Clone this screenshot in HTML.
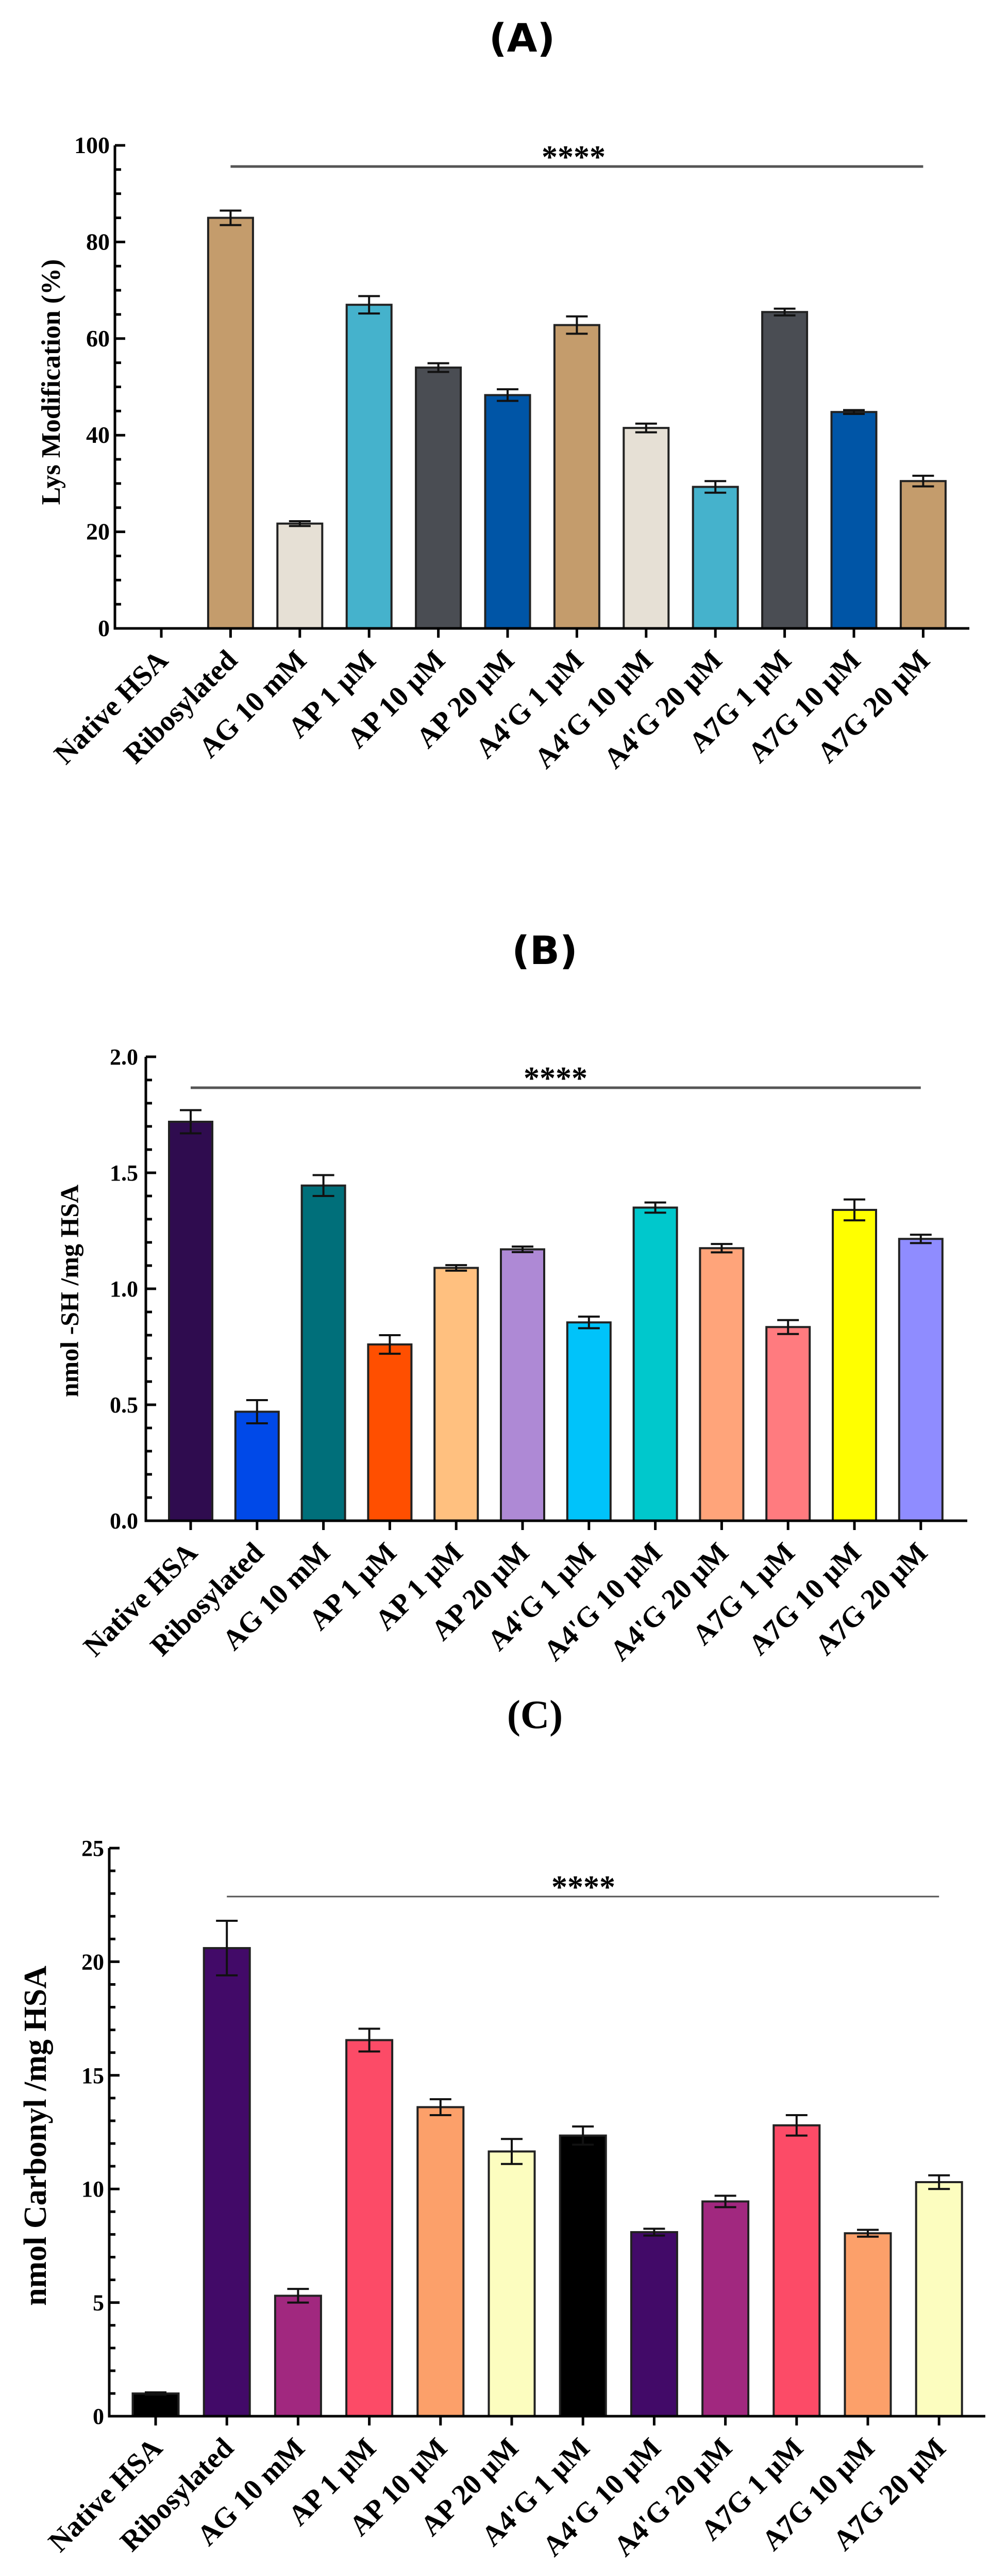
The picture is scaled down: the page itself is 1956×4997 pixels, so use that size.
<!DOCTYPE html>
<html><head><meta charset="utf-8"><style>
html,body{margin:0;padding:0;background:#fff;}
svg{display:block;}
text{font-family:"Liberation Serif","DejaVu Serif",serif;font-weight:bold;fill:#000;}
</style></head><body>
<svg id="fig" width="1956" height="4997" viewBox="0 0 1956 4997" xmlns="http://www.w3.org/2000/svg">
<text x="1013" y="100" text-anchor="middle" style="font-family:'DejaVu Sans',sans-serif;font-size:76px;">(A)</text>
<text x="1057" y="1870" text-anchor="middle" style="font-family:'DejaVu Sans',sans-serif;font-size:76px;">(B)</text>
<text x="1038" y="3352" text-anchor="middle" style="font-size:78px;">(C)</text>
</svg>
<script>
const catsA = ["Native HSA","Ribosylated","AG 10 mM","AP 1 µM","AP 10 µM","AP 20 µM","A4'G 1 µM","A4'G 10 µM","A4'G 20 µM","A7G 1 µM","A7G 10 µM","A7G 20 µM"];
const valsA = [0,85,21.7,67,54,48.3,62.8,41.5,29.3,65.5,44.8,30.5];
const errsA = [0,1.5,0.5,1.8,0.9,1.2,1.8,0.9,1.2,0.7,0.4,1.1];
const ticksA = [0,20,40,60,80,100];
const colorsA = ["#ffffff","#C49C6C","#E6E0D5","#45B2CC","#4A4D53","#0055A6","#C49C6C","#E6E0D5","#45B2CC","#4A4D53","#0055A6","#C49C6C"];

const catsB = ["Native HSA","Ribosylated","AG 10 mM","AP 1 µM","AP 1 µM","AP 20 µM","A4'G 1 µM","A4'G 10 µM","A4'G 20 µM","A7G 1 µM","A7G 10 µM","A7G 20 µM"];
const valsB = [1.72,0.47,1.445,0.76,1.09,1.17,0.855,1.35,1.175,0.835,1.34,1.215];
const errsB = [0.05,0.05,0.045,0.04,0.012,0.012,0.025,0.022,0.018,0.03,0.045,0.018];
const ticksB = ["0.0","0.5","1.0","1.5","2.0"];
const colorsB = ["#2F0C4F","#0049E8","#006F7A","#FF4F00","#FFC07F","#AE89D5","#00C3FA","#00C8CC","#FFA47A","#FF7B7F","#FFFF00","#8F8CFF"];

const catsC = ["Native HSA","Ribosylated","AG 10 mM","AP 1 µM","AP 10 µM","AP 20 µM","A4'G 1 µM","A4'G 10 µM","A4'G 20 µM","A7G 1 µM","A7G 10 µM","A7G 20 µM"];
const valsC = [1.0,20.6,5.3,16.55,13.6,11.65,12.35,8.1,9.45,12.8,8.05,10.3];
const errsC = [0.05,1.2,0.3,0.5,0.35,0.55,0.4,0.15,0.25,0.45,0.15,0.3];
const ticksC = [0,5,10,15,20,25];
const colorsC = ["#000000","#420A68","#A1287F","#FC4B67","#FCA06A","#FCFDBF","#000000","#420A68","#A1287F","#FC4B67","#FCA06A","#FCFDBF"];

const NS = "http://www.w3.org/2000/svg";
const svg = document.getElementById('fig');
function mk(tag, attrs, parent){
  const e = document.createElementNS(NS, tag);
  for (const k in attrs) e.setAttribute(k, attrs[k]);
  (parent||svg).appendChild(e);
  return e;
}

function drawChart(cfg){
  const g = mk('g', {});
  
  
  const ymax = cfg.ymax;
  const y = v => cfg.y0 - (v / ymax) * (cfg.y0 - cfg.yTop);
  const x = i => cfg.x0 + i * cfg.step;
  for (let v = 0; v <= ymax + 1e-9; v += cfg.minor) {
    const isMajor = Math.abs(v / cfg.major - Math.round(v / cfg.major)) < 1e-6;
    const t = mk('line', {x1: cfg.axX, x2: cfg.axX + (isMajor ? 20 : 12), y1: y(v), y2: y(v), stroke: '#000', 'stroke-width': 5}, g);
    
    
  }
  cfg.ticks.forEach(tv => {
    const t = mk('text', {x: cfg.axX - cfg.lblGap, y: y(parseFloat(tv)) + 15, 'text-anchor': 'end', 'font-size': cfg.tickFont}, g);
    t.textContent = tv;
    
    
  });
  cfg.vals.forEach((v, i) => {
    const cx = x(i);
    if (v > 0) {
      const r = mk('rect', {x: cx - cfg.bw / 2, y: y(v), width: cfg.bw, height: cfg.y0 - y(v), fill: cfg.colors[i], stroke: '#222', 'stroke-width': 4}, g);
      
      
      const e = cfg.errs[i];
      if (e > 0) {
        const eb = mk('path', {d: `M${cx} ${y(v + e)}V${y(v - e)}M${cx - 21} ${y(v + e)}H${cx + 21}M${cx - 21} ${y(v - e)}H${cx + 21}`, stroke: '#111', 'stroke-width': 4, fill: 'none'}, g);
        
        
      }
    }
    const tk = mk('line', {x1: cx, x2: cx, y1: cfg.y0, y2: cfg.y0 + 18, stroke: '#000', 'stroke-width': 5}, g);
    
    
    const px = cx + 16, py = cfg.y0 + 65;
    const lb = mk('text', {x: px, y: py, 'text-anchor': 'end', 'font-size': cfg.xFont, transform: `rotate(-45 ${px} ${py})`}, g);
    lb.textContent = cfg.cats[i];
    
    
  });
  const ax = mk('path', {d: `M${cfg.axX} ${cfg.yTop}V${cfg.y0}H${cfg.axR}`, stroke: '#000', 'stroke-width': 5, fill: 'none'}, g);
  
  
  const yt = mk('text', {x: cfg.ytX, y: cfg.ytY, 'text-anchor': 'middle', 'font-size': cfg.ytFont, transform: `rotate(-90 ${cfg.ytX} ${cfg.ytY})`, 'dominant-baseline': 'middle'}, g);
  yt.textContent = cfg.ytitle;
  
  
  const sl = mk('line', {x1: x(cfg.sigFrom), x2: x(cfg.vals.length - 1), y1: cfg.sigY, y2: cfg.sigY, stroke: '#555', 'stroke-width': cfg.sigW}, g);
  
  
  const st = mk('text', {x: cfg.starX, y: cfg.sigY + 2, 'text-anchor': 'middle', 'font-size': 62}, g);
  st.textContent = '****';
  
  
}

drawChart({name:'chart-a-lys-modification', cats:catsA, vals:valsA, errs:errsA, colors:colorsA, ticks:ticksA.map(String), ymax:100, major:20, minor:5,
  axX:223, axR:1881, y0:1219, yTop:282, x0:313, step:134.4, bw:87, tickFont:46, lblGap:10, xFont:56,
  ytitle:'Lys Modification (%)', ytX:104, ytY:741, ytFont:52, sigFrom:1, sigY:323, sigW:5, starX:1113});

drawChart({name:'chart-b-thiol', cats:catsB, vals:valsB, errs:errsB, colors:colorsB, ticks:ticksB, ymax:2.0, major:0.5, minor:0.1,
  axX:283, axR:1877, y0:2950, yTop:2050, x0:370, step:128.8, bw:84, tickFont:44, lblGap:15, xFont:56,
  ytitle:'nmol -SH /mg HSA', ytX:140, ytY:2504, ytFont:50, sigFrom:0, sigY:2110, sigW:5, starX:1078});

drawChart({name:'chart-c-carbonyl', cats:catsC, vals:valsC, errs:errsC, colors:colorsC, ticks:ticksC.map(String), ymax:25, major:5, minor:1,
  axX:212, axR:1912, y0:4687, yTop:3585, x0:302, step:138.2, bw:89, tickFont:44, lblGap:10, xFont:56,
  ytitle:'nmol Carbonyl /mg HSA', ytX:75, ytY:4143, ytFont:62, sigFrom:1, sigY:3679, sigW:3, starX:1132});
</script>
</body></html>
